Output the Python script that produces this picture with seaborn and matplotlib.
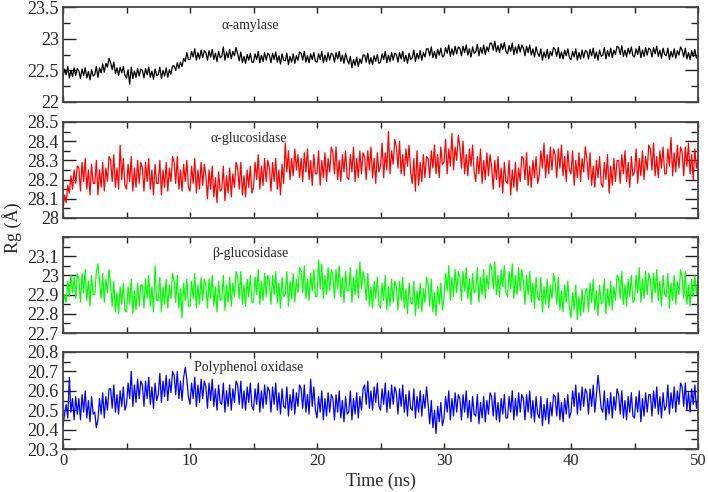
import numpy as np
import matplotlib
matplotlib.use("Agg")
import matplotlib.pyplot as plt
import seaborn as sns
from matplotlib.ticker import MultipleLocator

# Rg time series, one value every 0.125 ns
amylase = [
    22.39, 22.52, 22.43, 22.56, 22.38, 22.50, 22.40, 22.54, 22.42, 22.53,
    22.49, 22.37, 22.52, 22.42, 22.54, 22.38, 22.48, 22.35, 22.51, 22.41,
    22.43, 22.56, 22.39, 22.54, 22.46, 22.60, 22.47, 22.61, 22.55, 22.69,
    22.62, 22.51, 22.63, 22.45, 22.54, 22.42, 22.55, 22.46, 22.56, 22.42,
    22.38, 22.51, 22.28, 22.55, 22.37, 22.49, 22.39, 22.53, 22.41, 22.52,
    22.50, 22.38, 22.53, 22.43, 22.55, 22.39, 22.49, 22.36, 22.52, 22.42,
    22.43, 22.55, 22.37, 22.50, 22.41, 22.54, 22.39, 22.51, 22.44, 22.57,
    22.57, 22.50, 22.62, 22.53, 22.63, 22.56, 22.69, 22.64, 22.78, 22.67,
    22.67, 22.80, 22.71, 22.84, 22.66, 22.78, 22.68, 22.82, 22.70, 22.81,
    22.78, 22.66, 22.81, 22.71, 22.83, 22.67, 22.77, 22.64, 22.80, 22.70,
    22.72, 22.87, 22.66, 22.79, 22.70, 22.83, 22.68, 22.80, 22.73, 22.86,
    22.76, 22.65, 22.79, 22.62, 22.72, 22.61, 22.75, 22.66, 22.77, 22.63,
    22.63, 22.76, 22.67, 22.80, 22.62, 22.74, 22.64, 22.78, 22.66, 22.77,
    22.74, 22.62, 22.77, 22.67, 22.79, 22.63, 22.73, 22.60, 22.76, 22.66,
    22.65, 22.77, 22.59, 22.72, 22.63, 22.76, 22.61, 22.73, 22.66, 22.79,
    22.77, 22.66, 22.80, 22.63, 22.73, 22.62, 22.76, 22.67, 22.78, 22.64,
    22.63, 22.76, 22.67, 22.80, 22.62, 22.74, 22.64, 22.78, 22.66, 22.77,
    22.75, 22.63, 22.78, 22.68, 22.80, 22.64, 22.74, 22.61, 22.77, 22.67,
    22.60, 22.72, 22.54, 22.67, 22.58, 22.71, 22.56, 22.68, 22.61, 22.74,
    22.74, 22.63, 22.77, 22.60, 22.70, 22.59, 22.73, 22.64, 22.75, 22.61,
    22.63, 22.76, 22.67, 22.80, 22.62, 22.74, 22.64, 22.78, 22.66, 22.77,
    22.75, 22.63, 22.78, 22.68, 22.80, 22.64, 22.74, 22.61, 22.77, 22.67,
    22.70, 22.82, 22.64, 22.77, 22.68, 22.81, 22.66, 22.78, 22.71, 22.84,
    22.84, 22.73, 22.87, 22.70, 22.80, 22.69, 22.83, 22.74, 22.85, 22.71,
    22.73, 22.86, 22.77, 22.90, 22.72, 22.84, 22.74, 22.88, 22.76, 22.87,
    22.85, 22.73, 22.88, 22.78, 22.90, 22.74, 22.84, 22.71, 22.87, 22.77,
    22.79, 22.91, 22.73, 22.86, 22.77, 22.90, 22.75, 22.87, 22.80, 22.93,
    22.93, 22.82, 22.96, 22.79, 22.89, 22.78, 22.92, 22.83, 22.94, 22.80,
    22.76, 22.89, 22.80, 22.93, 22.75, 22.87, 22.77, 22.91, 22.79, 22.90,
    22.85, 22.73, 22.88, 22.78, 22.90, 22.74, 22.84, 22.71, 22.87, 22.77,
    22.72, 22.84, 22.66, 22.79, 22.70, 22.83, 22.68, 22.80, 22.73, 22.86,
    22.83, 22.72, 22.86, 22.69, 22.79, 22.68, 22.82, 22.73, 22.84, 22.70,
    22.67, 22.80, 22.71, 22.84, 22.66, 22.78, 22.68, 22.82, 22.70, 22.81,
    22.80, 22.68, 22.83, 22.73, 22.85, 22.69, 22.79, 22.66, 22.82, 22.72,
    22.74, 22.86, 22.68, 22.81, 22.72, 22.85, 22.70, 22.82, 22.75, 22.88,
    22.86, 22.75, 22.89, 22.72, 22.82, 22.71, 22.85, 22.76, 22.87, 22.73,
    22.71, 22.84, 22.75, 22.88, 22.70, 22.82, 22.72, 22.86, 22.74, 22.85,
    22.83, 22.71, 22.86, 22.76, 22.88, 22.72, 22.82, 22.69, 22.85, 22.75,
    22.73, 22.85, 22.67, 22.80, 22.71, 22.84, 22.69, 22.81, 22.74, 22.87,
    22.82, 22.71, 22.85, 22.68, 22.78, 22.67, 22.81, 22.72, 22.83, 22.69,
    22.74,
]
a_glucosidase = [
    28.04, 28.12, 28.08, 28.17, 28.13, 28.22, 28.15, 28.25, 28.18, 28.27,
    28.26, 28.14, 28.29, 28.19, 28.31, 28.15, 28.25, 28.12, 28.28, 28.18,
    28.18, 28.30, 28.12, 28.25, 28.16, 28.29, 28.14, 28.26, 28.19, 28.32,
    28.30, 28.19, 28.33, 28.16, 28.26, 28.15, 28.38, 28.20, 28.31, 28.17,
    28.15, 28.28, 28.19, 28.32, 28.14, 28.26, 28.16, 28.30, 28.18, 28.29,
    28.26, 28.14, 28.29, 28.19, 28.31, 28.15, 28.25, 28.12, 28.28, 28.18,
    28.18, 28.30, 28.12, 28.25, 28.16, 28.29, 28.14, 28.26, 28.19, 28.32,
    28.29, 28.18, 28.32, 28.15, 28.25, 28.14, 28.28, 28.19, 28.30, 28.16,
    28.14, 28.27, 28.18, 28.31, 28.13, 28.25, 28.15, 28.29, 28.17, 28.28,
    28.22, 28.10, 28.25, 28.15, 28.27, 28.11, 28.21, 28.08, 28.24, 28.14,
    28.15, 28.27, 28.09, 28.22, 28.13, 28.26, 28.11, 28.23, 28.16, 28.29,
    28.26, 28.15, 28.29, 28.12, 28.22, 28.11, 28.25, 28.16, 28.27, 28.13,
    28.16, 28.29, 28.20, 28.33, 28.15, 28.27, 28.17, 28.31, 28.19, 28.30,
    28.26, 28.14, 28.29, 28.19, 28.31, 28.15, 28.25, 28.12, 28.28, 28.18,
    28.39, 28.24, 28.35, 28.20, 28.31, 28.22, 28.36, 28.25, 28.33, 28.21,
    28.31, 28.19, 28.34, 28.24, 28.36, 28.20, 28.30, 28.17, 28.33, 28.23,
    28.23, 28.35, 28.17, 28.30, 28.21, 28.34, 28.19, 28.31, 28.24, 28.37,
    28.34, 28.23, 28.37, 28.20, 28.30, 28.19, 28.33, 28.24, 28.35, 28.21,
    28.20, 28.33, 28.24, 28.37, 28.19, 28.31, 28.21, 28.35, 28.23, 28.34,
    28.32, 28.20, 28.35, 28.25, 28.37, 28.21, 28.31, 28.18, 28.34, 28.24,
    28.27, 28.39, 28.21, 28.34, 28.25, 28.45, 28.23, 28.35, 28.28, 28.41,
    28.37, 28.26, 28.40, 28.23, 28.33, 28.22, 28.36, 28.27, 28.38, 28.24,
    28.18, 28.31, 28.14, 28.35, 28.17, 28.29, 28.19, 28.33, 28.21, 28.32,
    28.31, 28.21, 28.35, 28.26, 28.38, 28.23, 28.33, 28.21, 28.37, 28.28,
    28.29, 28.41, 28.23, 28.36, 28.27, 28.44, 28.25, 28.37, 28.30, 28.43,
    28.37, 28.26, 28.40, 28.23, 28.33, 28.22, 28.36, 28.27, 28.38, 28.24,
    28.19, 28.32, 28.23, 28.36, 28.18, 28.30, 28.20, 28.34, 28.22, 28.33,
    28.27, 28.15, 28.30, 28.20, 28.32, 28.16, 28.26, 28.13, 28.29, 28.19,
    28.18, 28.30, 28.12, 28.25, 28.16, 28.29, 28.14, 28.26, 28.19, 28.32,
    28.31, 28.20, 28.34, 28.17, 28.27, 28.16, 28.30, 28.21, 28.32, 28.18,
    28.22, 28.35, 28.26, 28.39, 28.21, 28.33, 28.23, 28.37, 28.25, 28.36,
    28.33, 28.21, 28.36, 28.26, 28.38, 28.22, 28.32, 28.19, 28.35, 28.25,
    28.23, 28.35, 28.17, 28.30, 28.21, 28.34, 28.19, 28.31, 28.24, 28.37,
    28.31, 28.20, 28.34, 28.17, 28.27, 28.16, 28.30, 28.21, 28.32, 28.18,
    28.16, 28.29, 28.20, 28.33, 28.13, 28.27, 28.17, 28.31, 28.19, 28.30,
    28.30, 28.18, 28.33, 28.23, 28.35, 28.19, 28.29, 28.16, 28.32, 28.22,
    28.24, 28.36, 28.18, 28.31, 28.22, 28.35, 28.20, 28.32, 28.25, 28.38,
    28.36, 28.25, 28.39, 28.22, 28.32, 28.21, 28.35, 28.26, 28.37, 28.23,
    28.23, 28.36, 28.27, 28.42, 28.22, 28.34, 28.24, 28.38, 28.26, 28.37,
    28.34, 28.22, 28.37, 28.27, 28.39, 28.23, 28.33, 28.20, 28.36, 28.26,
    28.31,
]
b_glucosidase = [
    22.83, 22.90, 22.86, 22.97, 22.89, 23.00, 22.91, 22.99, 22.88, 23.01,
    22.98, 22.86, 23.01, 22.91, 23.03, 22.87, 22.97, 22.84, 23.00, 22.90,
    22.90, 23.02, 23.06, 22.97, 22.88, 23.01, 22.86, 22.98, 22.91, 23.03,
    22.95, 22.84, 22.97, 22.81, 22.91, 22.80, 22.94, 22.85, 22.96, 22.82,
    22.81, 22.94, 22.85, 22.98, 22.80, 22.92, 22.82, 22.96, 22.84, 22.95,
    22.95, 22.83, 22.98, 22.88, 23.00, 22.84, 22.94, 22.81, 23.05, 22.87,
    22.87, 22.99, 22.81, 22.94, 22.85, 22.98, 22.83, 22.95, 22.88, 23.01,
    22.97, 22.86, 23.00, 22.83, 22.93, 22.78, 22.96, 22.87, 22.98, 22.84,
    22.84, 22.97, 22.88, 23.01, 22.83, 22.95, 22.85, 22.99, 22.87, 22.98,
    22.95, 22.83, 22.98, 22.88, 23.00, 22.84, 22.94, 22.81, 22.97, 22.87,
    22.88, 23.00, 22.82, 22.95, 22.86, 22.99, 22.84, 22.96, 22.89, 23.02,
    22.99, 22.88, 23.02, 22.85, 22.95, 22.84, 22.98, 22.89, 23.00, 22.86,
    22.86, 22.99, 22.90, 23.03, 22.85, 22.97, 22.87, 23.01, 22.89, 23.00,
    22.97, 22.85, 23.00, 22.90, 23.02, 22.86, 22.96, 22.83, 22.99, 22.89,
    22.90, 23.02, 22.84, 22.97, 22.88, 23.01, 22.86, 22.98, 22.91, 23.04,
    23.02, 22.91, 23.05, 22.88, 22.98, 22.87, 23.01, 22.92, 23.03, 22.89,
    22.89, 23.08, 22.93, 23.06, 22.88, 23.00, 22.90, 23.04, 22.92, 23.03,
    23.00, 22.88, 23.03, 22.93, 23.05, 22.89, 22.99, 22.86, 23.02, 22.92,
    22.92, 23.04, 22.86, 22.99, 22.90, 23.03, 22.88, 23.07, 22.93, 23.02,
    22.98, 22.87, 23.01, 22.84, 22.94, 22.83, 22.97, 22.88, 22.99, 22.85,
    22.83, 22.96, 22.87, 23.00, 22.82, 22.94, 22.84, 22.98, 22.86, 22.97,
    22.94, 22.82, 22.97, 22.87, 22.99, 22.83, 22.93, 22.80, 22.96, 22.86,
    22.85, 22.97, 22.79, 22.92, 22.83, 22.96, 22.81, 22.93, 22.86, 22.99,
    22.95, 22.84, 22.98, 22.81, 22.91, 22.79, 22.94, 22.85, 22.96, 22.82,
    22.88, 23.01, 22.92, 23.05, 22.87, 22.99, 22.89, 23.03, 22.91, 23.02,
    22.99, 22.87, 23.02, 22.92, 23.04, 22.88, 22.98, 22.85, 23.01, 22.91,
    22.92, 23.04, 22.86, 22.99, 22.90, 23.03, 22.88, 23.00, 22.93, 23.06,
    23.04, 22.93, 23.07, 22.90, 23.00, 22.89, 23.03, 22.94, 23.05, 22.91,
    22.89, 23.02, 22.93, 23.06, 22.88, 23.00, 22.90, 23.04, 22.92, 23.03,
    22.97, 22.85, 23.00, 22.90, 23.02, 22.86, 22.96, 22.83, 22.99, 22.89,
    22.87, 22.99, 22.81, 22.94, 22.85, 22.98, 22.83, 22.95, 22.88, 23.01,
    22.96, 22.85, 22.99, 22.82, 22.92, 22.81, 22.95, 22.86, 22.97, 22.83,
    22.78, 22.91, 22.82, 22.95, 22.77, 22.89, 22.79, 22.93, 22.81, 22.92,
    22.93, 22.81, 22.96, 22.86, 22.98, 22.82, 22.92, 22.79, 22.95, 22.85,
    22.86, 22.98, 22.80, 22.93, 22.84, 22.97, 22.82, 22.94, 22.87, 23.00,
    22.99, 22.88, 23.02, 22.85, 22.95, 22.84, 22.98, 22.89, 23.00, 22.86,
    22.87, 23.00, 22.91, 23.04, 22.86, 22.98, 22.88, 23.02, 22.90, 23.01,
    22.98, 22.86, 23.01, 22.91, 23.03, 22.87, 22.97, 22.84, 23.00, 22.90,
    22.89, 23.01, 22.83, 22.96, 22.87, 23.00, 22.85, 22.97, 22.90, 23.03,
    22.99, 22.88, 23.02, 22.85, 22.95, 22.84, 22.98, 22.89, 23.00, 22.90,
    22.98,
]
polyphenol_oxidase = [
    20.42, 20.48, 20.53, 20.46, 20.67, 20.49, 20.56, 20.45, 20.57, 20.48,
    20.56, 20.45, 20.58, 20.49, 20.60, 20.46, 20.55, 20.44, 20.57, 20.48,
    20.49, 20.41, 20.45, 20.56, 20.48, 20.59, 20.46, 20.57, 20.50, 20.61,
    20.61, 20.51, 20.63, 20.49, 20.58, 20.48, 20.60, 20.52, 20.62, 20.50,
    20.53, 20.64, 20.56, 20.70, 20.52, 20.63, 20.54, 20.66, 20.56, 20.65,
    20.63, 20.52, 20.65, 20.56, 20.67, 20.53, 20.62, 20.51, 20.64, 20.55,
    20.58, 20.69, 20.54, 20.65, 20.57, 20.68, 20.55, 20.66, 20.59, 20.70,
    20.68, 20.58, 20.70, 20.56, 20.65, 20.55, 20.67, 20.72, 20.66, 20.57,
    20.53, 20.64, 20.56, 20.67, 20.52, 20.63, 20.54, 20.66, 20.56, 20.65,
    20.62, 20.51, 20.64, 20.55, 20.66, 20.52, 20.61, 20.50, 20.63, 20.54,
    20.53, 20.64, 20.49, 20.60, 20.52, 20.63, 20.50, 20.61, 20.54, 20.65,
    20.63, 20.53, 20.65, 20.51, 20.60, 20.50, 20.62, 20.54, 20.64, 20.52,
    20.50, 20.61, 20.53, 20.64, 20.49, 20.60, 20.51, 20.63, 20.53, 20.62,
    20.60, 20.49, 20.62, 20.53, 20.64, 20.50, 20.59, 20.48, 20.61, 20.52,
    20.51, 20.62, 20.47, 20.58, 20.50, 20.61, 20.48, 20.59, 20.52, 20.63,
    20.61, 20.51, 20.63, 20.49, 20.58, 20.48, 20.66, 20.52, 20.62, 20.50,
    20.46, 20.57, 20.49, 20.60, 20.45, 20.56, 20.47, 20.59, 20.49, 20.58,
    20.56, 20.45, 20.58, 20.49, 20.60, 20.46, 20.55, 20.44, 20.57, 20.48,
    20.49, 20.60, 20.45, 20.56, 20.48, 20.59, 20.46, 20.57, 20.50, 20.61,
    20.63, 20.53, 20.65, 20.51, 20.60, 20.50, 20.62, 20.54, 20.64, 20.52,
    20.50, 20.61, 20.53, 20.64, 20.49, 20.60, 20.51, 20.63, 20.53, 20.62,
    20.59, 20.48, 20.61, 20.52, 20.63, 20.49, 20.58, 20.47, 20.60, 20.51,
    20.50, 20.61, 20.46, 20.57, 20.49, 20.60, 20.47, 20.58, 20.51, 20.62,
    20.53, 20.43, 20.55, 20.41, 20.50, 20.38, 20.52, 20.44, 20.54, 20.42,
    20.46, 20.57, 20.49, 20.60, 20.45, 20.56, 20.47, 20.59, 20.49, 20.58,
    20.56, 20.45, 20.58, 20.49, 20.60, 20.46, 20.55, 20.44, 20.57, 20.48,
    20.47, 20.58, 20.43, 20.54, 20.46, 20.57, 20.44, 20.55, 20.48, 20.59,
    20.57, 20.47, 20.59, 20.45, 20.54, 20.44, 20.56, 20.48, 20.58, 20.46,
    20.46, 20.57, 20.49, 20.60, 20.45, 20.56, 20.47, 20.59, 20.49, 20.58,
    20.56, 20.45, 20.58, 20.49, 20.60, 20.46, 20.55, 20.44, 20.57, 20.48,
    20.46, 20.57, 20.42, 20.53, 20.45, 20.56, 20.43, 20.54, 20.47, 20.58,
    20.57, 20.47, 20.59, 20.45, 20.54, 20.44, 20.56, 20.48, 20.58, 20.46,
    20.49, 20.60, 20.52, 20.63, 20.48, 20.59, 20.50, 20.62, 20.52, 20.61,
    20.59, 20.48, 20.61, 20.52, 20.63, 20.49, 20.58, 20.68, 20.60, 20.51,
    20.49, 20.60, 20.45, 20.56, 20.48, 20.59, 20.46, 20.57, 20.50, 20.61,
    20.58, 20.48, 20.60, 20.46, 20.55, 20.45, 20.57, 20.49, 20.59, 20.47,
    20.46, 20.57, 20.49, 20.60, 20.44, 20.56, 20.47, 20.59, 20.49, 20.58,
    20.58, 20.47, 20.60, 20.51, 20.62, 20.48, 20.57, 20.46, 20.59, 20.50,
    20.52, 20.63, 20.48, 20.59, 20.51, 20.62, 20.49, 20.60, 20.53, 20.64,
    20.62, 20.52, 20.64, 20.50, 20.59, 20.49, 20.61, 20.53, 20.63, 20.51,
    20.57,
]
time_ns = np.linspace(0, 50, len(amylase))

names = ["\u03b1-amylase", "\u03b1-glucosidase", "\u03b2-glucosidase", "Polyphenol oxidase"]
colors = ["black", "#ff0000", "#00ff00", "#0000ff"]
ylims = [(22, 23.5), (28, 28.5), (22.7, 23.2), (20.3, 20.8)]
yminor = [0.25, 0.05, 0.05, 0.05]
yticks = [
    [22, 22.5, 23, 23.5],
    [28, 28.1, 28.2, 28.3, 28.4, 28.5],
    [22.7, 22.8, 22.9, 23.0, 23.1],
    [20.3, 20.4, 20.5, 20.6, 20.7, 20.8],
]
ylabels = [
    ["22", "22.5", "23", "23.5"],
    ["28", "28.1", "28.2", "28.3", "28.4", "28.5"],
    ["22.7", "22.8", "22.9", "23", "23.1"],
    ["20.3", "20.4", "20.5", "20.6", "20.7", "20.8"],
]
series = [amylase, a_glucosidase, b_glucosidase, polyphenol_oxidase]

sns.set_style("ticks")
plt.rcParams["font.family"] = ["Liberation Serif", "DejaVu Serif"]
serif = "Liberation Serif"

fig = plt.figure(figsize=(7.08, 4.92), dpi=100)

# panel boxes in pixels: (top, bottom)
boxes = [(7, 102), (122, 218), (237, 333), (352, 449)]
label_pos = [(0.249, 0.81), (0.233, 0.83), (0.235, 0.83), (0.206, 0.84)]

for i in range(4):
    top, bot = boxes[i]
    ax = fig.add_axes([63 / 708, 1 - bot / 492, 635 / 708, (bot - top) / 492])
    sns.lineplot(x=time_ns, y=series[i], ax=ax, color=colors[i], linewidth=0.9)
    ax.set_xlim(0, 50)
    ax.set_ylim(*ylims[i])
    ax.xaxis.set_major_locator(MultipleLocator(10))
    ax.xaxis.set_minor_locator(MultipleLocator(5))
    ax.set_yticks(yticks[i])
    ax.set_yticklabels(ylabels[i], fontfamily=serif)
    ax.yaxis.set_minor_locator(MultipleLocator(yminor[i]))
    ax.tick_params(axis="both", which="both", direction="in", top=True, right=True,
                   width=1, color="#222222")
    ax.tick_params(axis="y", which="major", length=9.5, labelsize=13, pad=3)
    ax.tick_params(axis="y", which="minor", length=5)
    ax.tick_params(axis="x", which="both", length=4.5, labelsize=12, pad=3)
    if i < 3:
        ax.tick_params(axis="x", labelbottom=False)
    else:
        for lab in ax.get_xticklabels():
            lab.set_fontfamily(serif)
    for sp in ax.spines.values():
        sp.set_color("#444444")
        sp.set_linewidth(1.3)
    ax.set_xlabel("")
    ax.set_ylabel("")
    ax.text(label_pos[i][0], label_pos[i][1], names[i], transform=ax.transAxes,
            fontsize=10, ha="left", va="center")

fig.text(0.017, 0.537, "Rg (\u00c5)", rotation=90, ha="center", va="center", fontsize=13)
fig.text(0.538, 0.022, "Time (ns)", ha="center", va="center", fontsize=13)

fig.savefig("out.png", dpi=100)
